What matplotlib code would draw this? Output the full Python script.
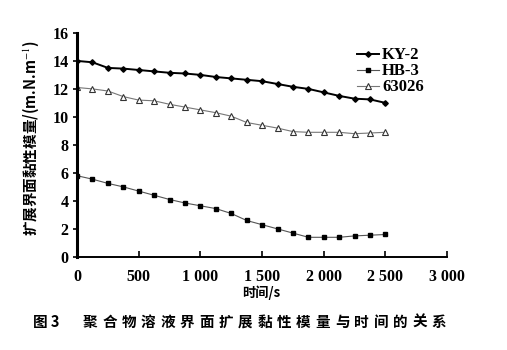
import numpy as np
import matplotlib
matplotlib.use("Agg")
import matplotlib.pyplot as plt

plt.rcParams["font.family"] = ["Liberation Serif", "Noto Sans CJK SC", "DejaVu Sans"]
plt.rcParams["mathtext.fontset"] = "stix"

# ── DATA ─────────────────────────────────────────────────────────────────────
time_s = [0, 125, 250, 375, 500, 625, 750, 875, 1000, 1125, 1250, 1375,
          1500, 1625, 1750, 1875, 2000, 2125, 2250, 2375, 2500]
ky2 = [14.0, 13.9, 13.5, 13.45, 13.35, 13.25, 13.15, 13.1, 13.0, 12.85, 12.75,
       12.65, 12.55, 12.35, 12.15, 12.0, 11.75, 11.5, 11.3, 11.25, 11.0]
hb3 = [5.8, 5.55, 5.25, 5.0, 4.7, 4.4, 4.1, 3.85, 3.65, 3.45, 3.1,
       2.6, 2.3, 2.0, 1.7, 1.4, 1.4, 1.4, 1.5, 1.55, 1.6]
p63026 = [12.1, 12.0, 11.85, 11.45, 11.2, 11.15, 10.9, 10.7, 10.5, 10.3, 10.05,
          9.6, 9.4, 9.2, 8.95, 8.9, 8.9, 8.9, 8.8, 8.85, 8.9]

x_ticks = [0, 500, 1000, 1500, 2000, 2500, 3000]
x_labels = ["0", "500", "1 000", "1 500", "2 000", "2 500", "3 000"]
y_ticks = [0, 2, 4, 6, 8, 10, 12, 14, 16]

CJK = ["Noto Sans CJK SC", "DejaVu Sans"]

# ── PLOT ─────────────────────────────────────────────────────────────────────
fig = plt.figure(figsize=(5.07, 3.5), dpi=100)
ax = fig.add_axes([0.152, 0.266, 0.730, 0.640])

ax.plot(time_s, ky2, color="black", lw=1.4, marker="D", ms=2.8,
        mfc="black", mec="black", label="KY-2")
ax.plot(time_s, hb3, color="#555555", lw=0.8, marker="s", ms=3.3,
        mfc="black", mec="black", label="HB-3")
ax.plot(time_s, p63026, color="#777777", lw=0.8, marker="^", ms=3.8,
        mfc="white", mec="#333333", mew=0.8, label="63026")

ax.set_xlim(0, 3000)
ax.set_ylim(0, 16)
ax.set_xticks(x_ticks)
ax.set_xticklabels(x_labels)
ax.set_yticks(y_ticks)

for side in ("top", "right"):
    ax.spines[side].set_visible(False)
ax.spines["left"].set_linewidth(2.2)
ax.spines["bottom"].set_linewidth(1.4)

ax.tick_params(axis="x", direction="in", length=4, width=1.2, pad=9,
               labelsize=11.5)
ax.tick_params(axis="y", direction="out", length=3, width=1.2, pad=3,
               labelsize=11.5)
for lbl in ax.get_xticklabels() + ax.get_yticklabels():
    lbl.set_fontweight("bold")

leg = ax.legend(loc="upper right", bbox_to_anchor=(0.955, 0.965), frameon=False,
                handlelength=1.3, handletextpad=0.2, labelspacing=0.0,
                borderaxespad=0.0, prop={"family": "Liberation Serif",
                                         "weight": "bold", "size": 12})

fig.text(0.515, 0.163, "时间/s", ha="center", va="center", fontsize=9.5,
         fontweight="bold", family=CJK)

fig.text(0.06, 0.605, "扩展界面黏性模量/(m.N.m$^{-1}$)", rotation=90,
         ha="center", va="center", fontsize=10.5, fontweight="bold",
         family=CJK)

# caption, characters spaced out
fig.text(0.066, 0.08, "图 3", ha="left", va="center", fontsize=10.5,
         fontweight="bold", family=CJK)
caption = "聚合物溶液界面扩展黏性模量与时间的关系"
for i, ch in enumerate(caption):
    fig.text((90 + i * 19.4) / 507, 0.08, ch, ha="center", va="center",
             fontsize=10.5, fontweight="bold", family=CJK)

fig.savefig("out.png", dpi=100)
